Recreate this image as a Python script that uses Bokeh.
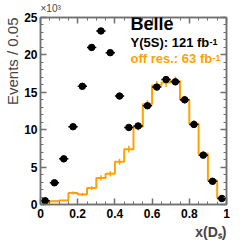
import numpy as np
from bokeh.plotting import figure
from bokeh.models import (FixedTicker, LinearAxis, Label, CustomJSTickFormatter, Range1d,
                          Title, CustomLabelingPolicy)
from bokeh.embed import file_html
from bokeh.resources import INLINE

# ---- data (Events / 0.05, in units of 10^3) ----
bin_width = 0.05
on_res = [0.5, 2.9, 6.1, 10.4, 15.8, 21.0, 23.2, 20.3, 14.5, 10.3,
          10.5, 13.2, 15.7, 16.7, 16.4, 14.0, 10.7, 6.6, 3.1, 0.8]
off_res = [0.3, 0.45, 0.55, 1.55, 1.35, 2.2, 3.55, 4.1, 5.7, 7.4,
           10.4, 13.4, 15.9, 16.3, 16.5, 14.0, 10.8, 6.8, 3.2, 0.9]
off_err = [0.1, 0.1, 0.1, 0.2, 0.2, 0.25, 0.35, 0.35, 0.4, 0.45,
           0.5, 0.55, 0.6, 0.6, 0.6, 0.55, 0.5, 0.4, 0.3, 0.15]
x_ticks = [0, 0.2, 0.4, 0.6, 0.8, 1.0]
y_ticks = [0, 5, 10, 15, 20, 25]

n = len(on_res)
edges = np.arange(n + 1) * bin_width
centers = edges[:-1] + bin_width / 2
on = np.array(on_res)
off = np.array(off_res)
oerr = np.array(off_err)

AX = "#707070"
ORANGE = "#FFA200"
FONT = "Liberation Sans"

p = figure(width=249, height=242, x_range=Range1d(0, 1), y_range=Range1d(0, 25),
           output_backend="svg", toolbar_location=None,
           min_border_left=40, min_border_right=23, min_border_top=14, min_border_bottom=38)
p.xgrid.visible = False
p.ygrid.visible = False
p.outline_line_color = AX
p.outline_line_width = 1.5

xt = FixedTicker(ticks=x_ticks, minor_ticks=list(np.arange(0, 21) * 0.05))
yt = FixedTicker(ticks=y_ticks, minor_ticks=list(range(0, 26)))

hide_all = CustomLabelingPolicy(code="""
    const all = [];
    for (const i of indices) all.push(i);
    for (const i of all) indices.unset(i);
    return indices;
""")


def style_axis(ax, labels=True):
    ax.axis_line_color = AX
    ax.axis_line_width = 1.5
    ax.major_tick_line_color = AX
    ax.minor_tick_line_color = AX
    ax.major_tick_line_width = 1.5
    ax.minor_tick_line_width = 1
    ax.major_tick_in = 6
    ax.major_tick_out = 0
    ax.minor_tick_in = 3
    ax.minor_tick_out = 0
    ax.major_label_text_font = FONT
    ax.major_label_text_font_style = "bold"
    ax.major_label_text_font_size = "12px"
    ax.major_label_text_color = "black"
    if not labels:
        ax.major_label_policy = hide_all
        ax.major_label_text_font_size = "2px"
        ax.major_label_standoff = 0


p.xaxis.ticker = xt
p.yaxis.ticker = yt
p.xaxis.formatter = CustomJSTickFormatter(code="return tick.toFixed(1).replace(/\\.0$/, '');")
style_axis(p.xaxis[0])
style_axis(p.yaxis[0])
p.xaxis.major_label_standoff = 4
p.yaxis.major_label_standoff = 3

top = LinearAxis(ticker=xt)
style_axis(top, labels=False)
p.add_layout(top, "above")
right = LinearAxis(ticker=yt)
style_axis(right, labels=False)
p.add_layout(right, "right")

# axis titles outside the frame
p.add_layout(Title(text="\u00d710\u00b3", align="left", text_font=FONT, text_font_size="10px",
                   text_font_style="normal", standoff=0, offset=0), "above")
p.add_layout(Title(text="Events / 0.05", align="right", text_font=FONT, text_font_size="15px",
                   text_font_style="normal", standoff=2, offset=0), "left")
p.add_layout(Title(text="x(D\u209b)", align="right", text_font=FONT, text_font_size="14px",
                   text_font_style="bold", standoff=2, offset=0), "below")

# off-resonance histogram
p.step(edges, np.append(off, off[-1]), mode="after", line_color=ORANGE, line_width=2)
p.segment(centers, off - oerr, centers, off + oerr, line_color=ORANGE, line_width=1.5)

# on-resonance points
p.segment(centers - bin_width / 2, on, centers + bin_width / 2, on, line_color="black", line_width=1.5)
p.scatter(centers, on, size=6.5, color="black")


def lab(x, y, t, size, style="bold", color="black", **kw):
    p.add_layout(Label(x=x, y=y, text=t, text_font=FONT, text_font_size=size,
                       text_font_style=style, text_color=color, **kw))


lab(0.484, 22.8, "Belle", "18px")
lab(0.484, 20.7, "Y(5S): 121 fb", "13px")
lab(0.909, 21.37, "-1", "9px")
lab(0.484, 18.5, "off res.: 63 fb", "13px", color=ORANGE)
lab(0.925, 19.2, "-1", "9px", color=ORANGE)

open("out.html", "w").write(file_html(p, INLINE))
